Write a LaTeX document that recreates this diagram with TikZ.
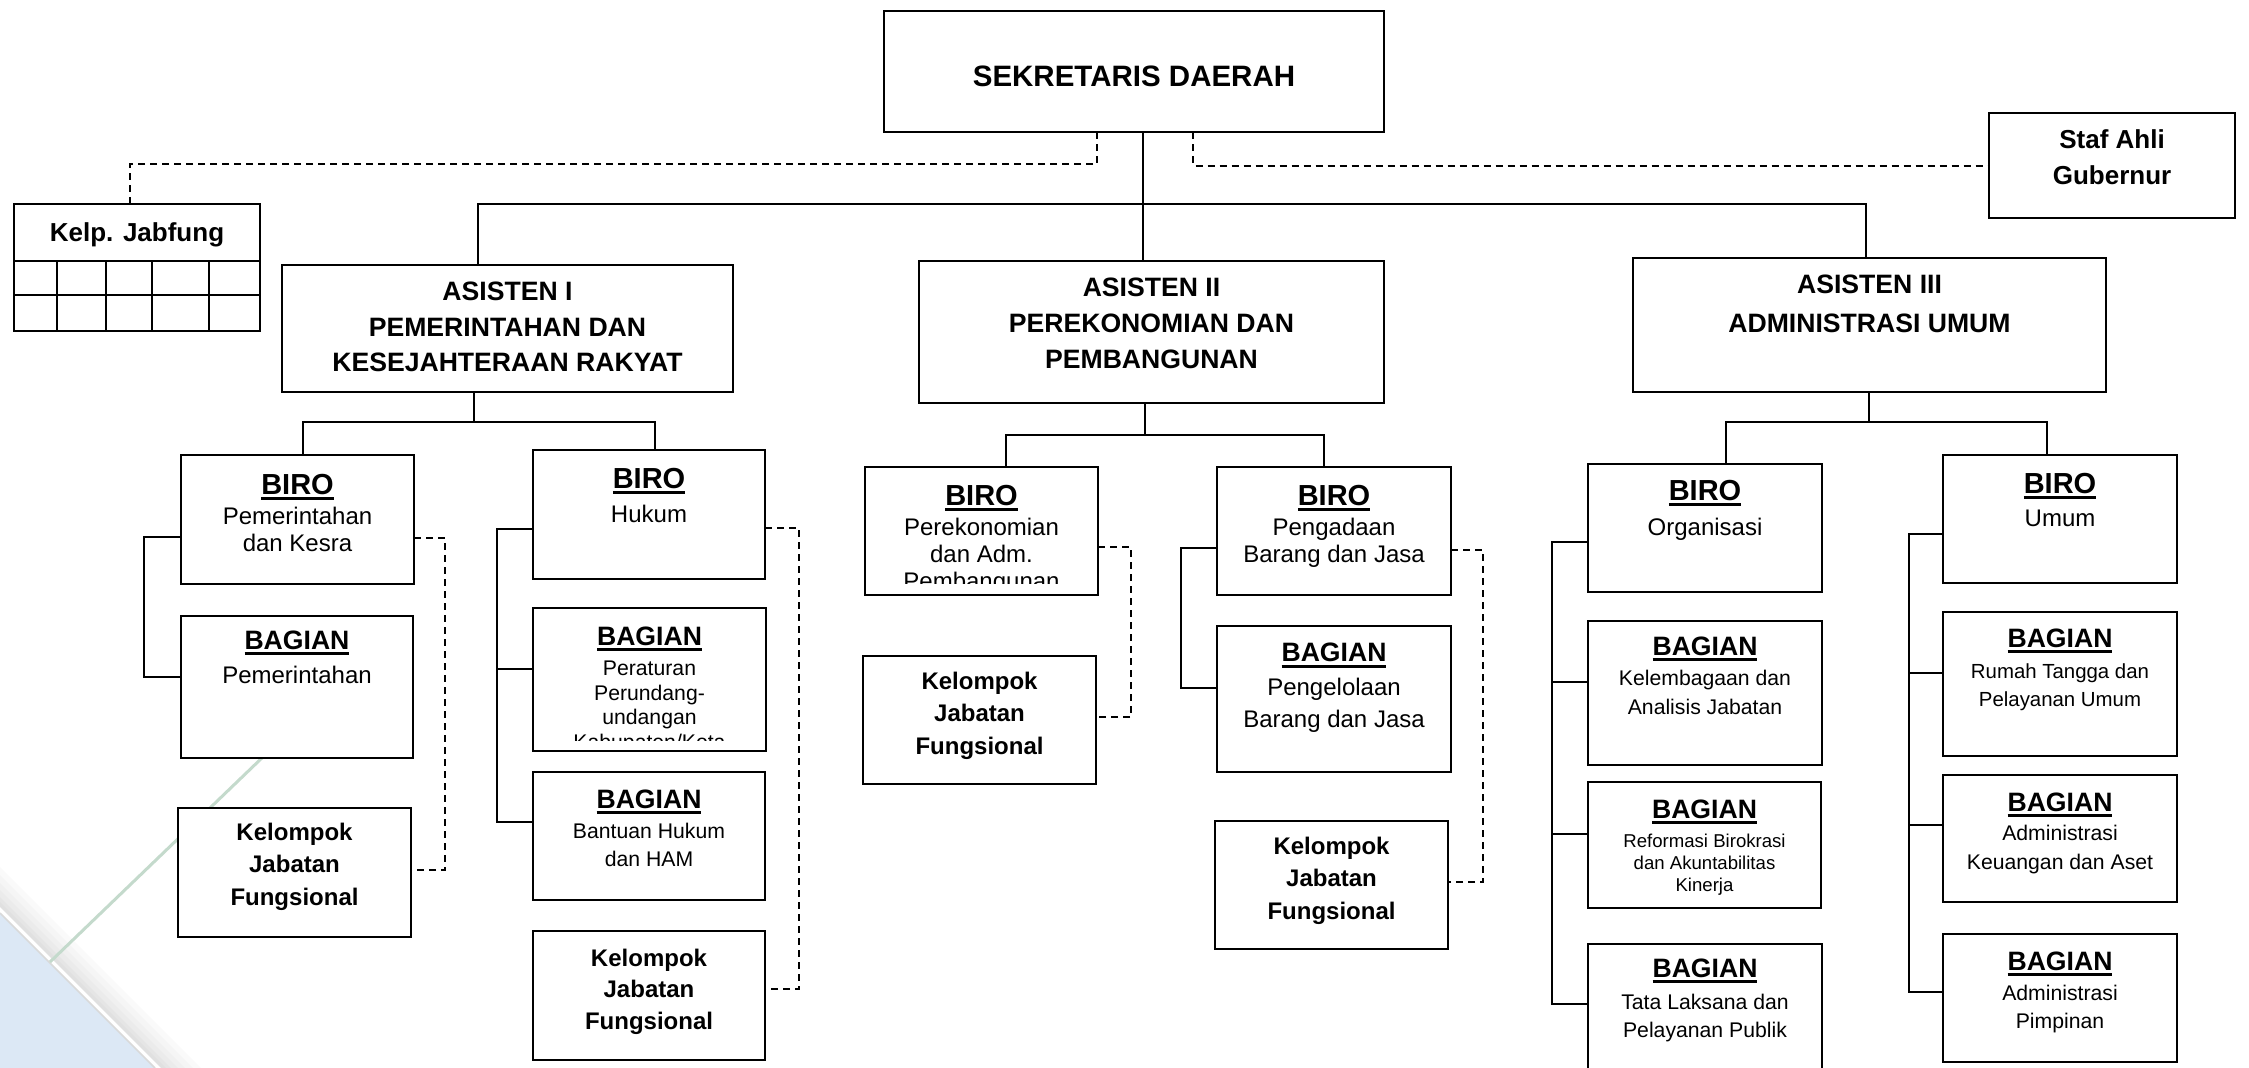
\documentclass[tikz,border=0pt]{standalone}
\usepackage{fontspec}
\setmainfont{Liberation Sans}
\definecolor{wmblue}{RGB}{220,232,245}
\definecolor{wmgreen}{RGB}{196,218,204}
\newcommand\undl[1]{\setbox0=\hbox{#1}\rlap{\rule[-6pt]{\wd0}{3pt}}\box0}
\newcommand\fnSek{\fontsize{29.5pt}{34pt}\selectfont\bfseries}
\newcommand\fnAs{\fontsize{26.6pt}{31pt}\selectfont\bfseries}
\newcommand\fnKp{\fontsize{26pt}{30pt}\selectfont\bfseries}
\newcommand\fnBr{\fontsize{29pt}{33pt}\selectfont\bfseries}
\newcommand\fnBg{\fontsize{26.6pt}{31pt}\selectfont\bfseries}
\newcommand\fnKj{\fontsize{24pt}{28pt}\selectfont\bfseries}
\newcommand\fnN{\fontsize{24pt}{28pt}\selectfont}
\newcommand\fnS{\fontsize{21.2pt}{25pt}\selectfont}
\newcommand\fnRt{\fontsize{20.4pt}{24pt}\selectfont}
\newcommand\fnXs{\fontsize{18.6pt}{22pt}\selectfont}
\newcommand\orgbx[5]{\node[orgbox, minimum width={(#4-#2)*1pt}, minimum height={(#5-#3)*1pt}] (#1) at (#2,#3) {};}
\newcommand\txtline[5]{\node[tx, font=#4] (#1) at (#2.north |- 0,#3) {#5};}
\tikzset{
  orgbox/.style={draw=black, line width=2.2pt, fill=white, inner sep=0pt, outer sep=0pt, anchor=north west},
  tx/.style={inner sep=0pt, outer sep=0pt, anchor=base, text=black},
  con/.style={draw=black, line width=2pt},
  dsh/.style={draw=black, line width=2pt, dash pattern=on 7pt off 5pt},
}
\begin{document}
\begin{tikzpicture}[x=1pt,y=-1pt]
\useasboundingbox (0,0) rectangle (2249,1068);
\clip (0,0) rectangle (2249,1068);
\fill[white] (0,0) rectangle (2249,1068);
% watermark (lower left)
\foreach \k/\g in {46/2,38/4,30/6,23/8,16/10,11/12}
  \fill[black!\g] (0,913-\k) -- (155+\k,1068) -- (155,1068) -- (0,913) -- cycle;
\fill[white] (0,907) -- (161,1068) -- (155,1068) -- (0,913) -- cycle;
\fill[wmblue] (0,913) -- (155,1068) -- (0,1068) -- cycle;
\draw[black!15, line width=1.5pt] (0,913) -- (155,1068);
\draw[wmgreen, line width=3pt] (50,962) -- (265,755);

% boxes
\orgbx{sek}{884}{11}{1384}{132}
\orgbx{staf}{1989}{113}{2235}{218}
\orgbx{kelp}{14}{204}{260}{331}
\orgbx{a1}{282}{265}{733}{392}
\orgbx{a2}{919}{261}{1384}{403}
\orgbx{a3}{1633}{258}{2106}{392}
\orgbx{bpem}{181}{455}{414}{584}
\orgbx{bgpem}{181}{616}{413}{758}
\orgbx{kjfa}{178}{808}{411}{937}
\orgbx{bhuk}{533}{450}{765}{579}
\orgbx{bper}{533}{608}{766}{751}
\orgbx{bbh}{533}{772}{765}{900}
\orgbx{kjfb}{533}{931}{765}{1060}
\orgbx{bperek}{865}{467}{1098}{595}
\orgbx{kjfc}{863}{656}{1096}{784}
\orgbx{bpeng}{1217}{467}{1451}{595}
\orgbx{bpgl}{1217}{626}{1451}{772}
\orgbx{kjfd}{1215}{821}{1448}{949}
\orgbx{borg}{1588}{464}{1822}{592}
\orgbx{bkel}{1588}{621}{1822}{765}
\orgbx{bref}{1588}{782}{1821}{908}
\orgbx{btata}{1588}{944}{1822}{1085}
\orgbx{bumum}{1943}{455}{2177}{583}
\orgbx{brt}{1943}{612}{2177}{756}
\orgbx{bkeu}{1943}{775}{2177}{902}
\orgbx{bpim}{1943}{934}{2177}{1062}

% Kelp. Jabfung grid
\draw[con] (kelp.west |- 0,261) -- (kelp.east |- 0,261);
\draw[con] (kelp.west |- 0,295) -- (kelp.east |- 0,295);
\foreach \c in {57,106,152,209} \draw[con] (\c,261) -- (kelp.south -| \c,0);

% top connectors
\draw[con] (sek.south -| 1143,0) -- (a2.north -| 1143,0);
\draw[con] (a1.north -| 478,0) -- (478,204) -- (1866,204) -- (a3.north -| 1866,0);
\draw[dsh] (sek.south -| 1097,0) -- (1097,164) -| (kelp.north -| 130,0);
\draw[dsh] (sek.south -| 1193,0) |- (staf.west);

% Asisten I
\draw[con] (a1.south -| 474,0) -- (474,422);
\draw[con] (bpem.north -| 303,0) -- (303,422) -- (655,422) -- (bhuk.north -| 655,0);
\draw[con] (bpem.west |- 0,537) -- (144,537) -- (144,677) -- (bgpem.west |- 0,677);
\draw[dsh] (bpem.east |- 0,538) -- (445,538) -- (445,870) -- (kjfa.east |- 0,870);
\draw[con] (bhuk.west |- 0,529) -- (497,529) -- (497,822) -- (bbh.west |- 0,822);
\draw[con] (497,669) -- (bper.west |- 0,669);
\draw[dsh] (bhuk.east |- 0,528) -- (799,528) -- (799,989) -- (kjfb.east |- 0,989);

% Asisten II
\draw[con] (a2.south -| 1145,0) -- (1145,435);
\draw[con] (bperek.north -| 1006,0) -- (1006,435) -- (1324,435) -- (bpeng.north -| 1324,0);
\draw[dsh] (bperek.east |- 0,547) -- (1131,547) -- (1131,717) -- (kjfc.east |- 0,717);
\draw[con] (bpeng.west |- 0,548) -- (1181,548) -- (1181,688) -- (bpgl.west |- 0,688);
\draw[dsh] (bpeng.east |- 0,550) -- (1483,550) -- (1483,882) -- (kjfd.east |- 0,882);

% Asisten III
\draw[con] (a3.south -| 1869,0) -- (1869,422);
\draw[con] (borg.north -| 1726,0) -- (1726,422) -- (2047,422) -- (bumum.north -| 2047,0);
\draw[con] (borg.west |- 0,542) -- (1552,542) -- (1552,1004) -- (btata.west |- 0,1004);
\draw[con] (1552,682) -- (bkel.west |- 0,682);
\draw[con] (1552,834) -- (bref.west |- 0,834);
\draw[con] (bumum.west |- 0,534) -- (1909,534) -- (1909,992) -- (bpim.west |- 0,992);
\draw[con] (1909,673) -- (brt.west |- 0,673);
\draw[con] (1909,825) -- (bkeu.west |- 0,825);

% texts
\txtline{sek-t}{sek}{86.6}{\fnSek}{SEKRETARIS DAERAH}
\txtline{staf-t1}{staf}{148}{\fnKp}{Staf Ahli}
\txtline{staf-t2}{staf}{184}{\fnKp}{Gubernur}
\txtline{kelp-t}{kelp}{241}{\fnKp}{Kelp. Jabfung}

\txtline{a1-t1}{a1}{300}{\fnAs}{ASISTEN I}
\txtline{a1-t2}{a1}{336}{\fnAs}{PEMERINTAHAN DAN}
\txtline{a1-t3}{a1}{371}{\fnAs}{KESEJAHTERAAN RAKYAT}
\txtline{a2-t1}{a2}{296}{\fnAs}{ASISTEN II}
\txtline{a2-t2}{a2}{332}{\fnAs}{PEREKONOMIAN DAN}
\txtline{a2-t3}{a2}{368}{\fnAs}{PEMBANGUNAN}
\txtline{a3-t1}{a3}{293}{\fnAs}{ASISTEN III}
\txtline{a3-t2}{a3}{332}{\fnAs}{ADMINISTRASI UMUM}

\txtline{bpem-t1}{bpem}{494}{\fnBr}{\undl{BIRO}}
\txtline{bpem-t2}{bpem}{524}{\fnN}{Pemerintahan}
\txtline{bpem-t3}{bpem}{551}{\fnN}{dan Kesra}
\txtline{bgpem-t1}{bgpem}{649}{\fnBg}{\undl{BAGIAN}}
\txtline{bgpem-t2}{bgpem}{683}{\fnN}{Pemerintahan}
\txtline{kjfa-t1}{kjfa}{840}{\fnKj}{Kelompok}
\txtline{kjfa-t2}{kjfa}{872}{\fnKj}{Jabatan}
\txtline{kjfa-t3}{kjfa}{905}{\fnKj}{Fungsional}

\txtline{bhuk-t1}{bhuk}{488}{\fnBr}{\undl{BIRO}}
\txtline{bhuk-t2}{bhuk}{522}{\fnN}{Hukum}
\txtline{bper-t1}{bper}{645}{\fnBg}{\undl{BAGIAN}}
\txtline{bper-t2}{bper}{675}{\fnS}{Peraturan}
\txtline{bper-t3}{bper}{700}{\fnS}{Perundang-}
\txtline{bper-t4}{bper}{724.5}{\fnS}{undangan}
\begin{scope}
\clip (533,608) rectangle (766,740);
\txtline{bper-t5}{bper}{749}{\fnS}{Kabupaten/Kota}
\end{scope}
\txtline{bbh-t1}{bbh}{808}{\fnBg}{\undl{BAGIAN}}
\txtline{bbh-t2}{bbh}{838}{\fnS}{Bantuan Hukum}
\txtline{bbh-t3}{bbh}{866.5}{\fnS}{dan HAM}
\txtline{kjfb-t1}{kjfb}{966}{\fnKj}{Kelompok}
\txtline{kjfb-t2}{kjfb}{997}{\fnKj}{Jabatan}
\txtline{kjfb-t3}{kjfb}{1029}{\fnKj}{Fungsional}

\txtline{bperek-t1}{bperek}{505}{\fnBr}{\undl{BIRO}}
\txtline{bperek-t2}{bperek}{535}{\fnN}{Perekonomian}
\txtline{bperek-t3}{bperek}{562}{\fnN}{dan Adm.}
\begin{scope}
\clip (865,467) rectangle (1098,583);
\txtline{bperek-t4}{bperek}{589}{\fnN}{Pembangunan}
\end{scope}
\txtline{kjfc-t1}{kjfc}{689}{\fnKj}{Kelompok}
\txtline{kjfc-t2}{kjfc}{721}{\fnKj}{Jabatan}
\txtline{kjfc-t3}{kjfc}{754}{\fnKj}{Fungsional}
\txtline{bpeng-t1}{bpeng}{505}{\fnBr}{\undl{BIRO}}
\txtline{bpeng-t2}{bpeng}{535}{\fnN}{Pengadaan}
\txtline{bpeng-t3}{bpeng}{562}{\fnN}{Barang dan Jasa}
\txtline{bpgl-t1}{bpgl}{661.5}{\fnBg}{\undl{BAGIAN}}
\txtline{bpgl-t2}{bpgl}{695}{\fnN}{Pengelolaan}
\txtline{bpgl-t3}{bpgl}{727}{\fnN}{Barang dan Jasa}
\txtline{kjfd-t1}{kjfd}{854}{\fnKj}{Kelompok}
\txtline{kjfd-t2}{kjfd}{886}{\fnKj}{Jabatan}
\txtline{kjfd-t3}{kjfd}{919}{\fnKj}{Fungsional}

\txtline{borg-t1}{borg}{500}{\fnBr}{\undl{BIRO}}
\txtline{borg-t2}{borg}{535}{\fnN}{Organisasi}
\txtline{bkel-t1}{bkel}{655}{\fnBg}{\undl{BAGIAN}}
\txtline{bkel-t2}{bkel}{685.5}{\fnS}{Kelembagaan dan}
\txtline{bkel-t3}{bkel}{714}{\fnS}{Analisis Jabatan}
\txtline{bref-t1}{bref}{818}{\fnBg}{\undl{BAGIAN}}
\txtline{bref-t2}{bref}{847}{\fnXs}{Reformasi Birokrasi}
\txtline{bref-t3}{bref}{869}{\fnXs}{dan Akuntabilitas}
\txtline{bref-t4}{bref}{891}{\fnXs}{Kinerja}
\txtline{btata-t1}{btata}{977}{\fnBg}{\undl{BAGIAN}}
\txtline{btata-t2}{btata}{1009}{\fnS}{Tata Laksana dan}
\txtline{btata-t3}{btata}{1037}{\fnS}{Pelayanan Publik}

\txtline{bumum-t1}{bumum}{493}{\fnBr}{\undl{BIRO}}
\txtline{bumum-t2}{bumum}{526}{\fnN}{Umum}
\txtline{brt-t1}{brt}{647}{\fnBg}{\undl{BAGIAN}}
\txtline{brt-t2}{brt}{678}{\fnRt}{Rumah Tangga dan}
\txtline{brt-t3}{brt}{706}{\fnRt}{Pelayanan Umum}
\txtline{bkeu-t1}{bkeu}{811}{\fnBg}{\undl{BAGIAN}}
\txtline{bkeu-t2}{bkeu}{840}{\fnS}{Administrasi}
\txtline{bkeu-t3}{bkeu}{869}{\fnS}{Keuangan dan Aset}
\txtline{bpim-t1}{bpim}{970}{\fnBg}{\undl{BAGIAN}}
\txtline{bpim-t2}{bpim}{1000}{\fnS}{Administrasi}
\txtline{bpim-t3}{bpim}{1028}{\fnS}{Pimpinan}
\end{tikzpicture}
\end{document}
